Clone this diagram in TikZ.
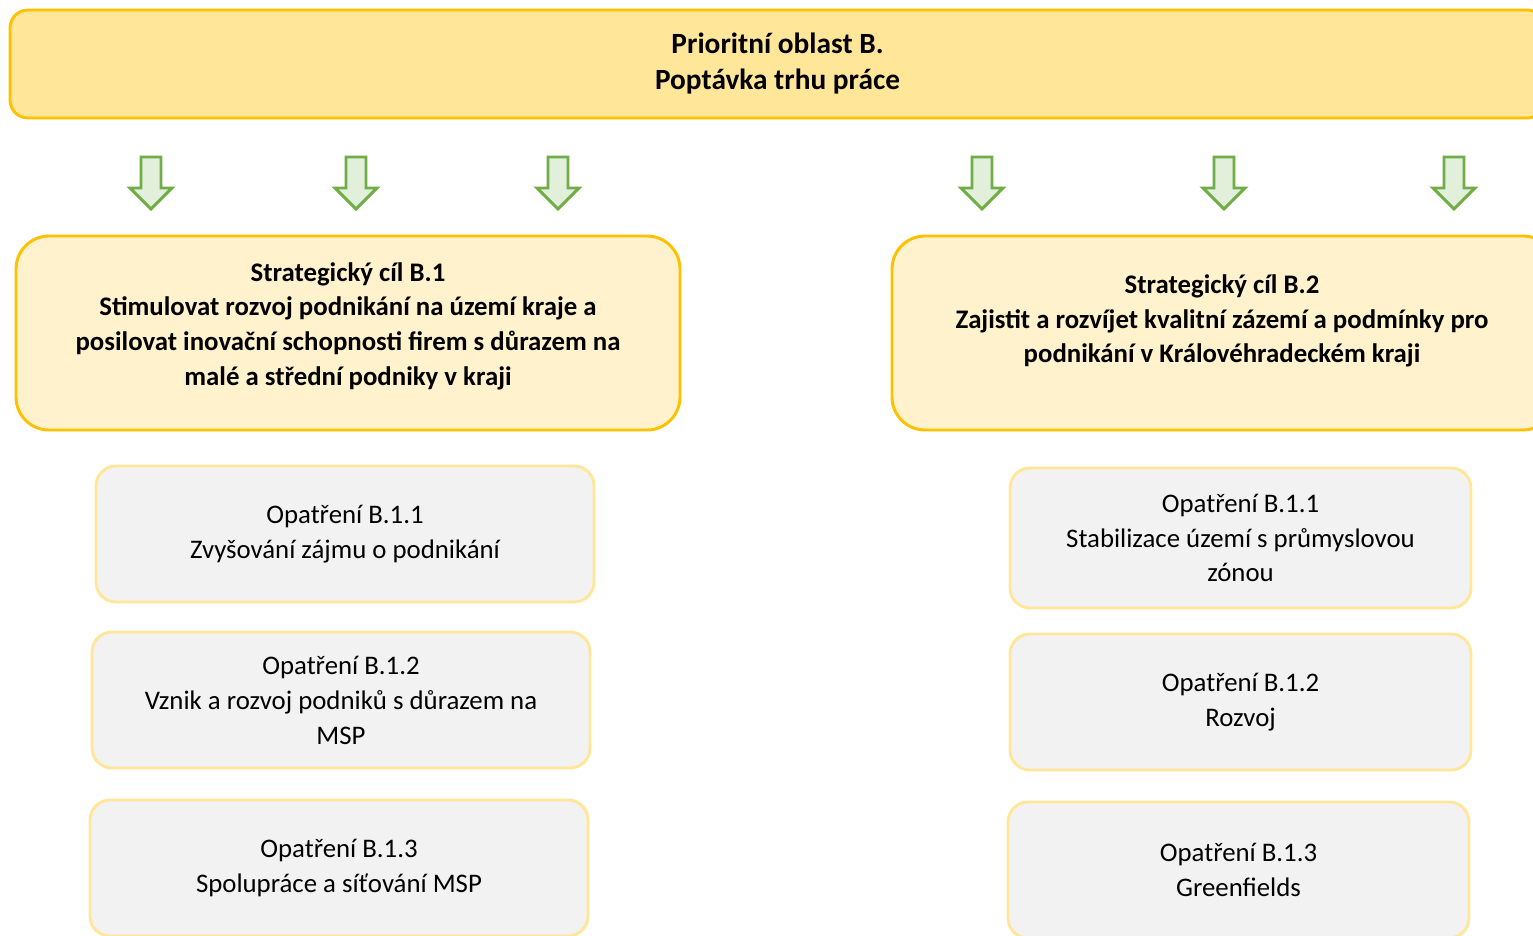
\documentclass[tikz,border=0pt]{standalone}
\usepackage{fontspec}
\setmainfont{Carlito}

\definecolor{gold}{HTML}{FFC000}
\definecolor{goldlight}{HTML}{FFE699}
\definecolor{cream}{HTML}{FFF2CC}
\definecolor{lightgray}{HTML}{F2F2F2}
\definecolor{leaf}{HTML}{70AD47}
\definecolor{leaflight}{HTML}{E2EFDA}

\begin{document}
\begin{tikzpicture}[
    x = 0.75pt,
    y = -0.75pt,
    font = \fontsize{20.1}{26.2}\selectfont,
    area/.style = {
      draw = gold,
      fill = goldlight,
      line width = 2.2pt,
      rounded corners = 13.5pt,
      minimum width = 1151.25pt,
      minimum height = 81pt,
      align = center,
      font = \fontsize{22}{27}\selectfont\bfseries
    },
    goal/.style = {
      draw = gold,
      fill = cream,
      line width = 2.2pt,
      rounded corners = 24.75pt,
      minimum width = 498pt,
      minimum height = 145.5pt
    },
    goaltext/.style = {
      align = center,
      inner sep = 0pt,
      font = \fontsize{20.1}{26}\selectfont\bfseries
    },
    measure/.style = {
      draw = goldlight,
      fill = lightgray,
      line width = 2.2pt,
      rounded corners = 15pt,
      minimum width = 373.5pt,
      minimum height = 102pt,
      align = center
    },
    measureR/.style = {
      measure,
      minimum width = 345.75pt
    },
    blockarrow/.style = {
      draw = leaf,
      fill = leaflight,
      line width = 2.2pt,
      line join = miter
    }
  ]
  \useasboundingbox (0,0) rectangle (1533,935);

  \node[area] (area) at (777.5,64) {Prioritní oblast B.\\Poptávka trhu práce};

  \foreach \x in {151,356,558,982,1224,1454}
    \draw[blockarrow] ({\x-10},157) -- ({\x+10},157) -- ({\x+10},188)
      -- ({\x+21},188) -- (\x,209) -- ({\x-21},188) -- ({\x-10},188) -- cycle;

  \node[goal] (b1) at (348,333) {};
  \node[goaltext] (b1t) at (348,326) {Strategický cíl B.1\\
    Stimulovat rozvoj podnikání na území kraje a\\
    posilovat inovační schopnosti firem s důrazem na\\
    malé a střední podniky v kraji};

  \node[goal] (b2) at (1224,333) {};
  \node[goaltext] (b2t) at (1222,321) {Strategický cíl B.2\\
    Zajistit a rozvíjet kvalitní zázemí a podmínky pro\\
    podnikání v Královéhradeckém kraji};

  \node[measure] (b11) at (345,534) {Opatření B.1.1\\Zvyšování zájmu o podnikání};
  \node[measure] (b12) at (341,700) {Opatření B.1.2\\Vznik a rozvoj podniků s důrazem na\\MSP};
  \node[measure] (b13) at (339,868) {Opatření B.1.3\\Spolupráce a síťování MSP};

  \node[measureR, minimum height = 105pt] (b21) at (1240.5,538) {Opatření B.1.1\\Stabilizace území s průmyslovou\\zónou};
  \node[measureR] (b22) at (1240.5,702) {Opatření B.1.2\\Rozvoj};
  \node[measureR] (b23) at (1238.5,870) {Opatření B.1.3\\Greenfields};
\end{tikzpicture}
\end{document}
